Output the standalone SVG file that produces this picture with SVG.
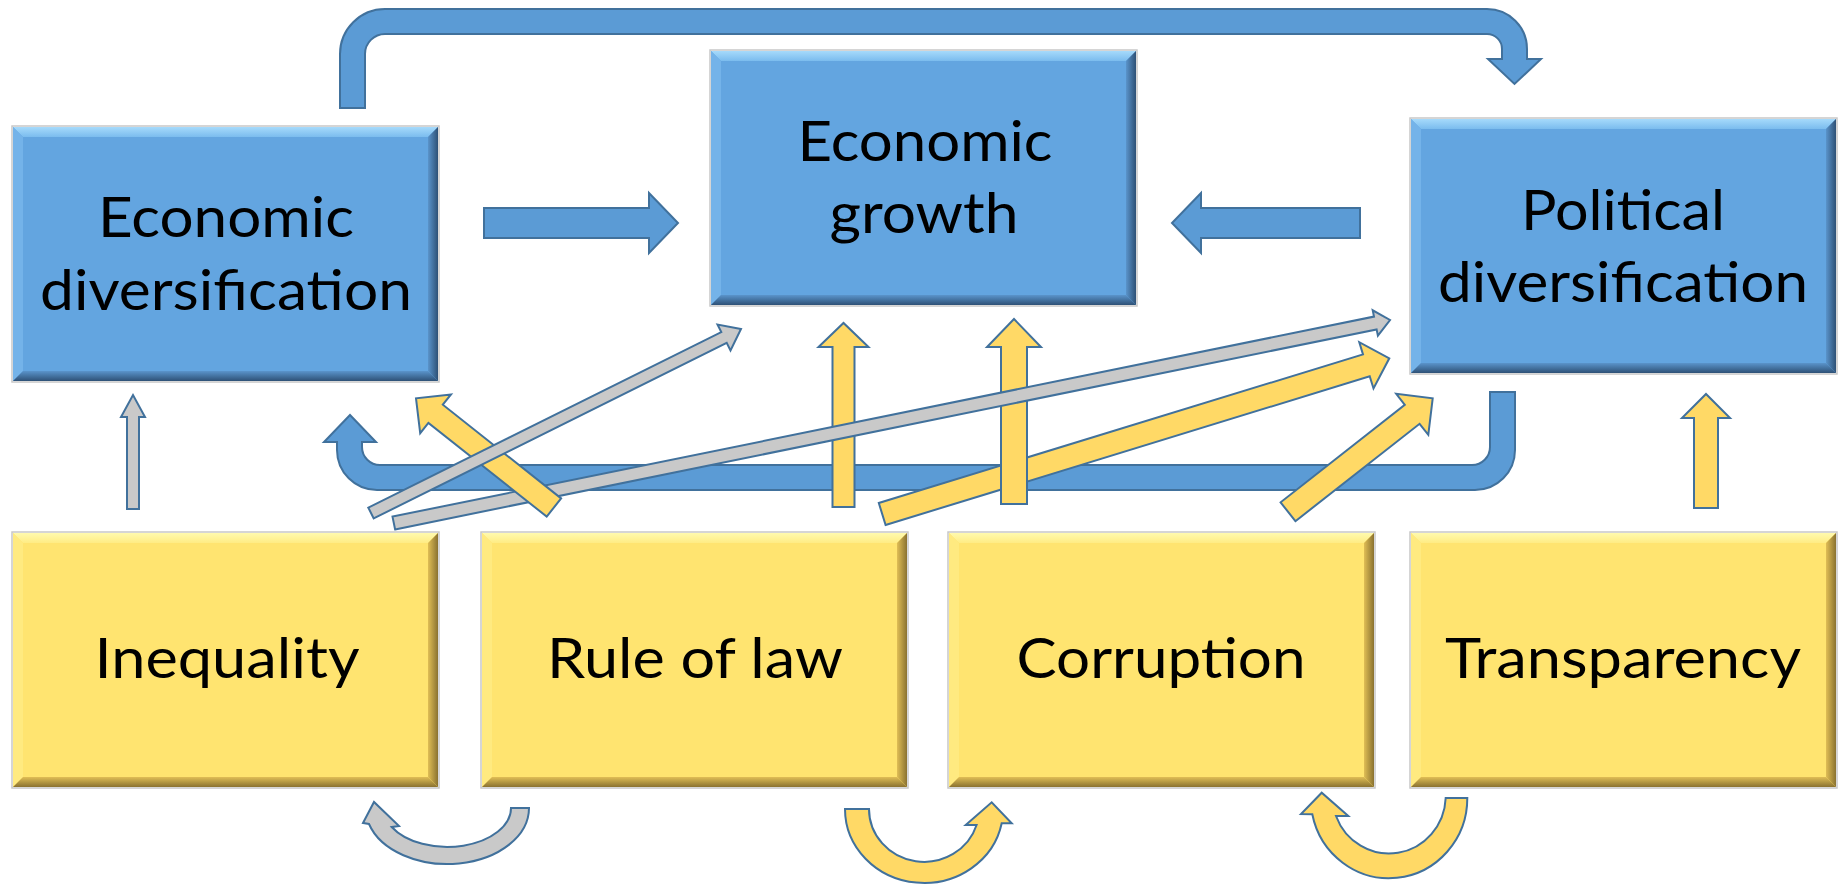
<svg xmlns="http://www.w3.org/2000/svg" width="1847" height="885" viewBox="0 0 1847 885">
<defs>
<linearGradient id="bTop" x1="0" y1="0" x2="0" y2="1"><stop offset="0" stop-color="#A6DAFB"/><stop offset="1" stop-color="#7BBCEE"/></linearGradient>
<linearGradient id="bBot" x1="0" y1="0" x2="0" y2="1"><stop offset="0" stop-color="#5A94CB"/><stop offset="1" stop-color="#2E5176"/></linearGradient>
<linearGradient id="bRight" x1="0" y1="0" x2="1" y2="0"><stop offset="0" stop-color="#5A94CB"/><stop offset="1" stop-color="#2E5176"/></linearGradient>
<linearGradient id="yTop" x1="0" y1="0" x2="0" y2="1"><stop offset="0" stop-color="#FFFAAE"/><stop offset="1" stop-color="#FFEC84"/></linearGradient>
<linearGradient id="yBot" x1="0" y1="0" x2="0" y2="1"><stop offset="0" stop-color="#E0BE55"/><stop offset="1" stop-color="#8A7230"/></linearGradient>
<linearGradient id="yRight" x1="0" y1="0" x2="1" y2="0"><stop offset="0" stop-color="#E0BE55"/><stop offset="1" stop-color="#8A7230"/></linearGradient>
</defs>
<style>
.edge{fill:none;stroke:#C8C8C8;stroke-width:1.5}
.bm{fill:#63A5E0}.bt{fill:url(#bTop)}.bl{fill:#74B3E9}.br{fill:url(#bRight)}.bb{fill:url(#bBot)}
.ym{fill:#FFE470}.yt{fill:url(#yTop)}.yl{fill:#FFEA80}.yr{fill:url(#yRight)}.yb{fill:url(#yBot)}
.lbl{font-family:Lato,"Liberation Sans",sans-serif;font-size:57px;fill:#000;text-anchor:middle}
.ab{fill:#5B9BD5;stroke:#41719C;stroke-width:2;stroke-linejoin:miter}
.ay{fill:#FFD966;stroke:#41719C;stroke-width:2;stroke-linejoin:miter}
.ag{fill:#C9C9C9;stroke:#41719C;stroke-width:2;stroke-linejoin:miter}
</style>
<rect width="1847" height="885" fill="#FFFFFF"/>

<g id="econ-div">
<rect x="12" y="126" width="427" height="256" class="edge"/>
<rect x="13" y="127" width="425" height="254" class="bm"/>
<polygon points="13,127 438,127 428,137 23,137" class="bt"/>
<polygon points="13,127 23,137 23,371 13,381" class="bl"/>
<polygon points="438,127 438,381 428,371 428,137" class="br"/>
<polygon points="13,381 23,371 428,371 438,381" class="bb"/>
<text x="226" y="237" class="lbl" textLength="256" lengthAdjust="spacingAndGlyphs">Economic</text>
<text x="226" y="310" class="lbl" textLength="372" lengthAdjust="spacingAndGlyphs">diversification</text>
</g>

<g id="econ-growth">
<rect x="710" y="50" width="427" height="256" class="edge"/>
<rect x="711" y="51" width="425" height="254" class="bm"/>
<polygon points="711,51 1136,51 1126,61 721,61" class="bt"/>
<polygon points="711,51 721,61 721,295 711,305" class="bl"/>
<polygon points="1136,51 1136,305 1126,295 1126,61" class="br"/>
<polygon points="711,305 721,295 1126,295 1136,305" class="bb"/>
<text x="925" y="161" class="lbl" textLength="255" lengthAdjust="spacingAndGlyphs">Economic</text>
<text x="924" y="233" class="lbl" textLength="189" lengthAdjust="spacingAndGlyphs">growth</text>
</g>

<g id="pol-div">
<rect x="1410" y="118" width="427" height="256" class="edge"/>
<rect x="1411" y="119" width="425" height="254" class="bm"/>
<polygon points="1411,119 1836,119 1826,129 1421,129" class="bt"/>
<polygon points="1411,119 1421,129 1421,363 1411,373" class="bl"/>
<polygon points="1836,119 1836,373 1826,363 1826,129" class="br"/>
<polygon points="1411,373 1421,363 1826,363 1836,373" class="bb"/>
<text x="1623" y="230" class="lbl" textLength="204" lengthAdjust="spacingAndGlyphs">Political</text>
<text x="1623" y="302" class="lbl" textLength="370" lengthAdjust="spacingAndGlyphs">diversification</text>
</g>

<g id="inequality">
<rect x="12" y="532" width="427" height="256" class="edge"/>
<rect x="13" y="533" width="425" height="254" class="ym"/>
<polygon points="13,533 438,533 428,543 23,543" class="yt"/>
<polygon points="13,533 23,543 23,777 13,787" class="yl"/>
<polygon points="438,533 438,787 428,777 428,543" class="yr"/>
<polygon points="13,787 23,777 428,777 438,787" class="yb"/>
<text x="227" y="678" class="lbl" textLength="265" lengthAdjust="spacingAndGlyphs">Inequality</text>
</g>

<g id="rule-of-law">
<rect x="481" y="532" width="427" height="256" class="edge"/>
<rect x="482" y="533" width="425" height="254" class="ym"/>
<polygon points="482,533 907,533 897,543 492,543" class="yt"/>
<polygon points="482,533 492,543 492,777 482,787" class="yl"/>
<polygon points="907,533 907,787 897,777 897,543" class="yr"/>
<polygon points="482,787 492,777 897,777 907,787" class="yb"/>
<text x="695" y="678" class="lbl" textLength="296" lengthAdjust="spacingAndGlyphs">Rule of law</text>
</g>

<g id="corruption">
<rect x="948" y="532" width="427" height="256" class="edge"/>
<rect x="949" y="533" width="425" height="254" class="ym"/>
<polygon points="949,533 1374,533 1364,543 959,543" class="yt"/>
<polygon points="949,533 959,543 959,777 949,787" class="yl"/>
<polygon points="1374,533 1374,787 1364,777 1364,543" class="yr"/>
<polygon points="949,787 959,777 1364,777 1374,787" class="yb"/>
<text x="1161" y="678" class="lbl" textLength="289" lengthAdjust="spacingAndGlyphs">Corruption</text>
</g>

<g id="transparency">
<rect x="1410" y="532" width="427" height="256" class="edge"/>
<rect x="1411" y="533" width="425" height="254" class="ym"/>
<polygon points="1411,533 1836,533 1826,543 1421,543" class="yt"/>
<polygon points="1411,533 1421,543 1421,777 1411,787" class="yl"/>
<polygon points="1836,533 1836,787 1826,777 1826,543" class="yr"/>
<polygon points="1411,787 1421,777 1826,777 1836,787" class="yb"/>
<text x="1623" y="678" class="lbl" textLength="356" lengthAdjust="spacingAndGlyphs">Transparency</text>
</g>

<g id="connectors">
<path class="ab" d="M340,108 L340,54 A45,45 0 0 1 385,9 L1487,9 A40,40 0 0 1 1527,49 L1527,59 L1541,59 L1514.5,84 L1488,59 L1502,59 L1502,49 A15,15 0 0 0 1487,34 L385,34 A20,20 0 0 0 365,54 L365,108 Z"/>
<path class="ab" d="M484,208 L649,208 L649,193 L678,223 L649,253 L649,238 L484,238 Z"/>
<path class="ab" d="M1360,208 L1201,208 L1201,193 L1172,223 L1201,253 L1201,238 L1360,238 Z"/>
<path class="ab" d="M1490,392 L1515,392 L1515,450 A40,40 0 0 1 1475,490 L377,490 A40,40 0 0 1 337,450 L337,442 L324,442 L350,415 L376,442 L362,442 L362,447 A18,18 0 0 0 380,465 L1472,465 A18,18 0 0 0 1490,447 Z"/>
<polygon class="ay" points="885.6,525 1369.7,376.3 1373.5,388.5 1389.3,358.3 1359.3,342.2 1363,354.4 878.8,503"/>
<polygon class="ay" points="1295.4,521.2 1419.6,423.8 1428.3,434.8 1432.7,398.3 1396.2,393.8 1404.8,404.9 1280.6,502.3"/>
<path class="ay" d="M832.5,507 L832.5,347 L818.5,347 L843.5,323 L868.5,347 L854.5,347 L854.5,507 Z"/>
<path class="ay" d="M1001,504 L1001,347 L987,347 L1014,319 L1041,347 L1027,347 L1027,504 Z"/>
<polygon class="ag" points="395.1,529.4 1376.6,329.4 1377.9,335.7 1390,320 1372.7,310.3 1374,316.6 392.5,516.6"/>
<polygon class="ay" points="561.1,498.4 442.8,404.7 451,394.4 416,398.3 420.2,433.2 428.4,422.9 546.7,516.6"/>
<polygon class="ag" points="373.7,518.4 726.7,342.8 730.5,350.4 741,329 717.5,324.5 721.3,332.1 368.3,507.6"/>
<path class="ag" d="M127,509 L127,417 L121,417 L133,395 L145,417 L139,417 L139,509 Z"/>
<path class="ay" d="M1694,508 L1694,418 L1682,418 L1706,394 L1730,418 L1718,418 L1718,508 Z"/>
<path class="ag" d="M529,808 A81.7,56 0 0 1 369,824 L363,823 L374,802 L399,826 L391.7,827 A63.7,39 0 0 0 511,808 Z"/>
<path class="ay" d="M845,809 A79.1,74 0 0 0 1001.7,823.3 L1011.7,823.3 L991.7,802.3 L965.7,825 L976.6,825 A55.1,53 0 0 1 869,809 Z"/>
<path class="ay" d="M1467.3,798 A78.3,80 0 0 1 1312.3,814.3 L1301,814 L1321.7,792.7 L1348.3,816 L1336,816 A56.7,58 0 0 0 1445.7,798 Z"/>
</g>
</svg>
